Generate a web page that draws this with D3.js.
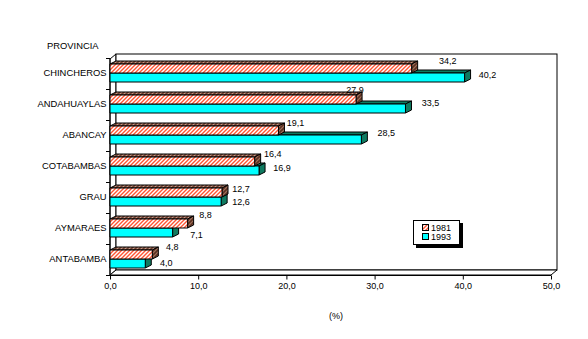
<!DOCTYPE html>
<html>
<head>
<meta charset="utf-8">
<script src="https://cdn.jsdelivr.net/npm/d3@7"></script>
<style>
  html, body { margin: 0; padding: 0; background: #fff; }
  svg { display: block; font-family: "Liberation Sans", Arial, sans-serif; }
</style>
</head>
<body>
<svg id="chart" width="588" height="339"></svg>
<script>
// Provinces and their share (%) in two census years
const categories = ["CHINCHEROS", "ANDAHUAYLAS", "ABANCAY", "COTABAMBAS", "GRAU", "AYMARAES", "ANTABAMBA"];
const series = ["1981", "1993"];
const values1981 = [34.2, 27.9, 19.1, 16.4, 12.7, 8.8, 4.8];
const values1993 = [40.2, 33.5, 28.5, 16.9, 12.6, 7.1, 4.0];
const xTicks = [0, 10, 20, 30, 40, 50];
const xTitle = "(%)";
const yTitle = "PROVINCIA";

// Hand placement tweaks for the value labels [dx, dy]
const nudge1981 = [[18, 0], [-19, -2], [-1, 0], [0, 0], [1, 4], [0, -1], [2, 0]];
const nudge1993 = [[0, -2], [2, -5], [2, -6], [0, -2], [-3, 1], [1, 3], [-2, 0]];

const svg = d3.select("#chart");
const fmt = v => d3.format(".1f")(v).replace(".", ",");

const x = d3.scaleLinear().domain([0, 50]).range([110, 551]);
const y = d3.scaleBand().domain(categories).range([58, 275]);
const ySub = d3.scaleBand().domain(series).range([6, 24]);

const wall = { dx: 6, dy: -5 };
const depth = { dx: 6, dy: -3 };
const yTop = y.range()[0], yBot = y.range()[1];
const xL = x.range()[0], xR = x.range()[1];

// Patterns
const defs = svg.append("defs");
const hatch = defs.append("pattern").attr("id", "hatchFront")
  .attr("patternUnits", "userSpaceOnUse").attr("width", 4).attr("height", 4);
hatch.append("rect").attr("width", 4).attr("height", 4).attr("fill", "#fff");
hatch.append("path").attr("d", "M-1,1 l2,-2 M0,4 l4,-4 M3,5 l2,-2")
  .attr("stroke", "#ff5533").attr("stroke-width", 1.4);

const hatchTop = defs.append("pattern").attr("id", "hatchTop")
  .attr("patternUnits", "userSpaceOnUse").attr("width", 4).attr("height", 4);
hatchTop.append("rect").attr("width", 4).attr("height", 4).attr("fill", "#c99a88");
hatchTop.append("path").attr("d", "M-1,1 l2,-2 M0,4 l4,-4 M3,5 l2,-2")
  .attr("stroke", "#6e3f2e").attr("stroke-width", 1.6);

const hatchSide = defs.append("pattern").attr("id", "hatchSide")
  .attr("patternUnits", "userSpaceOnUse").attr("width", 4).attr("height", 4);
hatchSide.append("rect").attr("width", 4).attr("height", 4).attr("fill", "#a0705c");
hatchSide.append("path").attr("d", "M-1,1 l2,-2 M0,4 l4,-4 M3,5 l2,-2")
  .attr("stroke", "#5a3020").attr("stroke-width", 1.6);

const styles = {
  "1981": { front: "url(#hatchFront)", top: "url(#hatchTop)", side: "url(#hatchSide)" },
  "1993": { front: "#00ffff", top: "#0f7a60", side: "#0f7a60" }
};

// 3D box walls
const g = svg.append("g");
const line = d3.line();
// left wall
g.append("path")
  .attr("d", line([[xL, yTop + 1], [xL + wall.dx, yTop + 1 + wall.dy], [xL + wall.dx, yBot + wall.dy], [xL, yBot]]) + "Z")
  .attr("fill", "#fff").attr("stroke", "#000");
// back wall
g.append("rect")
  .attr("x", xL + wall.dx).attr("y", yTop + 1 + wall.dy)
  .attr("width", xR - xL).attr("height", yBot - yTop - 1)
  .attr("fill", "#fff").attr("stroke", "#000");
// floor
g.append("path")
  .attr("d", line([[xL, yBot], [xR, yBot], [xR + wall.dx, yBot + wall.dy], [xL + wall.dx, yBot + wall.dy]]) + "Z")
  .attr("fill", "#fff").attr("stroke", "#000");

// y axis (front)
g.append("line").attr("x1", xL).attr("x2", xL).attr("y1", yTop + 1).attr("y2", yBot).attr("stroke", "#000");
const bounds = categories.map(c => y(c)).concat([yBot]);
g.selectAll(".ytick").data(bounds).join("line")
  .attr("x1", xL - 4).attr("x2", xL).attr("y1", d => d + 0.5).attr("y2", d => d + 0.5)
  .attr("stroke", "#000");

// x axis
const xAxis = d3.axisBottom(x).tickValues(xTicks).tickFormat(fmt).tickSize(4).tickPadding(3);
const xa = svg.append("g").attr("transform", `translate(0,${yBot + 0.5})`).call(xAxis);
xa.select(".domain").attr("d", `M${xL},0H${xR}`);
xa.selectAll("text").attr("font-size", 9).attr("font-family", "Liberation Sans, Arial, sans-serif").attr("fill", "#000");
xa.selectAll("line").attr("stroke", "#000");

// Bars
const data = categories.map((c, i) => ({
  cat: c, i,
  items: [
    { s: "1993", v: values1993[i], nudge: nudge1993[i] },
    { s: "1981", v: values1981[i], nudge: nudge1981[i] }
  ]
}));

const bars = svg.append("g");
data.forEach(d => {
  d.items.forEach(it => {
    const x0 = x(0), x1 = x(it.v);
    const y0 = y(d.cat) + ySub(it.s), h = ySub.bandwidth();
    const st = styles[it.s];
    const bg = bars.append("g").attr("stroke", "#000").attr("stroke-width", 1).attr("stroke-linejoin", "round");
    bg.append("path")
      .attr("d", line([[x0, y0], [x0 + depth.dx, y0 + depth.dy], [x1 + depth.dx, y0 + depth.dy], [x1, y0]]) + "Z")
      .attr("fill", st.top);
    bg.append("path")
      .attr("d", line([[x1, y0], [x1 + depth.dx, y0 + depth.dy], [x1 + depth.dx, y0 + h + depth.dy], [x1, y0 + h]]) + "Z")
      .attr("fill", st.side);
    bg.append("rect")
      .attr("x", x0).attr("y", y0).attr("width", x1 - x0).attr("height", h)
      .attr("fill", st.front);
  });
});

// Value labels
const labels = svg.append("g").attr("font-size", 9).attr("text-anchor", "middle").attr("fill", "#000");
data.forEach(d => {
  d.items.forEach(it => {
    const base = it.s === "1981" ? { dx: 18, dy: 3 } : { dx: 23, dy: 19 };
    labels.append("text")
      .attr("x", x(it.v) + base.dx + it.nudge[0])
      .attr("y", y(d.cat) + base.dy + it.nudge[1])
      .attr("dy", "0.35em")
      .text(fmt(it.v));
  });
});

// Category labels
svg.append("g").attr("font-size", 9.4).attr("text-anchor", "end")
  .selectAll("text").data(categories).join("text")
  .attr("x", 106.5).attr("y", c => y(c) + 15).attr("dy", "0.35em")
  .text(c => c);

// Titles
svg.append("text").attr("x", 47).attr("y", 46).attr("dy", "0.35em").attr("font-size", 9.4).text(yTitle);
svg.append("text").attr("x", 336).attr("y", 316).attr("dy", "0.35em").attr("font-size", 9)
  .attr("text-anchor", "middle").text(xTitle);

// Legend
const lg = svg.append("g");
lg.append("rect").attr("x", 416).attr("y", 223).attr("width", 47).attr("height", 25).attr("fill", "#000");
lg.append("rect").attr("x", 413.5).attr("y", 220.5).attr("width", 46).attr("height", 24)
  .attr("fill", "#fff").attr("stroke", "#000");
series.forEach((s, i) => {
  const yy = 224.5 + i * 9;
  lg.append("rect").attr("x", 422.5).attr("y", yy).attr("width", 6).attr("height", 6)
    .attr("fill", styles[s].front).attr("stroke", "#000");
  lg.append("text").attr("x", 431).attr("y", yy + 3).attr("dy", "0.35em").attr("font-size", 9).text(s);
});
</script>
</body>
</html>
